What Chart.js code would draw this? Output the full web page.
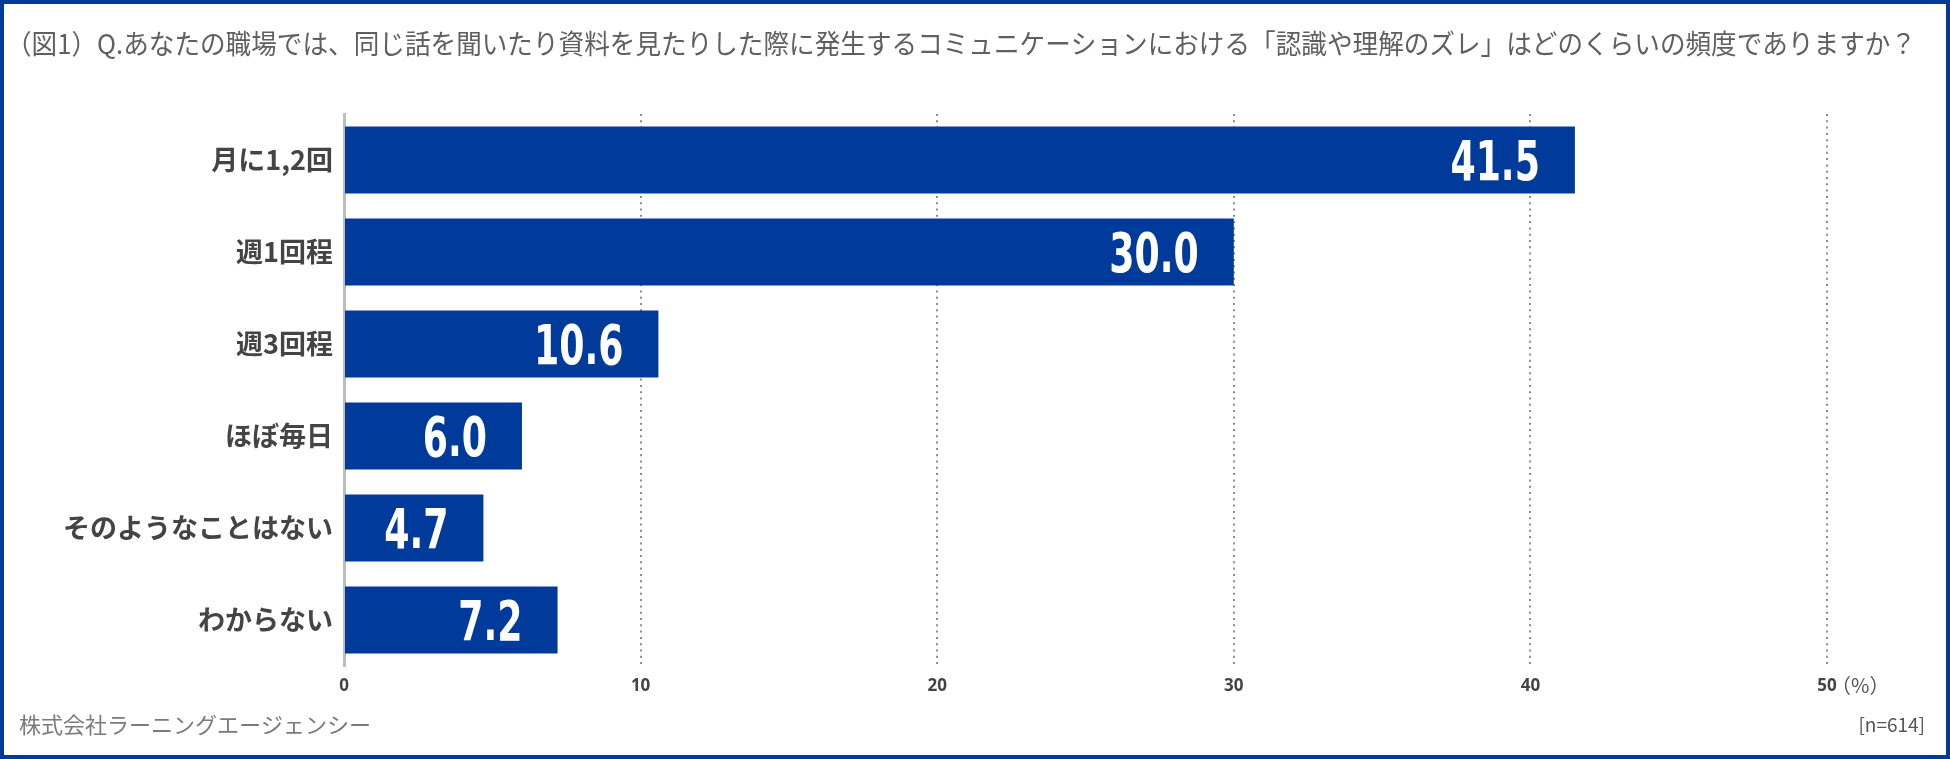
<!DOCTYPE html>
<html lang="ja">
<head>
<meta charset="utf-8">
<script src="https://cdn.jsdelivr.net/npm/chart.js@4.4.1/dist/chart.umd.min.js"></script>
<style>
  html, body { margin: 0; padding: 0; background: #fff; }
  #wrap {
    position: relative;
    width: 1950px;
    height: 759px;
    box-sizing: border-box;
    border: 4px solid #003a9a;
    background: #fff;
  }
  #chart { display: block; }
</style>
</head>
<body>
<div id="wrap"><canvas id="chart" width="1942" height="751"></canvas></div>
<script>
const categories = ["月に1,2回", "週1回程", "週3回程", "ほぼ毎日", "そのようなことはない", "わからない"];
const values = [41.5, 30.0, 10.6, 6.0, 4.7, 7.2];
const xTicks = [0, 10, 20, 30, 40, 50];

const titleText = "（図1）Q.あなたの職場では、同じ話を聞いたり資料を見たりした際に発生するコミュニケーションにおける「認識や理解のズレ」はどのくらいの頻度でありますか？";
const sourceText = "株式会社ラーニングエージェンシー";
const sampleText = "[n=614]";
const unitText = "（%）";

const barColor = "#003a9a";
const jpFont = "'Noto Sans CJK JP', 'Noto Sans', sans-serif";
const numFont = "'Liberation Sans Narrow', 'DejaVu Sans Condensed', sans-serif";

// value labels inside the bar end, squeezed to look like a condensed face
const barLabels = {
  id: "barLabels",
  afterDatasetsDraw(chart) {
    const ctx = chart.ctx;
    const meta = chart.getDatasetMeta(0);
    meta.data.forEach((bar, i) => {
      ctx.save();
      ctx.fillStyle = "#ffffff";
      ctx.font = "bold 56px " + numFont;
      ctx.textAlign = "right";
      ctx.textBaseline = "alphabetic";
      ctx.translate(bar.x - 35, bar.y + 20);
      ctx.scale(0.72, 1);
      ctx.fillText(values[i].toFixed(1), 0, 0);
      ctx.restore();
    });
  }
};

// title, footer and unit text
const frameText = {
  id: "frameText",
  afterDraw(chart) {
    const ctx = chart.ctx;
    const area = chart.chartArea;
    ctx.save();
    ctx.textBaseline = "middle";

    ctx.fillStyle = "#5f5f5f";
    ctx.font = "27px " + jpFont;
    ctx.textAlign = "left";
    const w = ctx.measureText(titleText).width;
    ctx.save();
    ctx.translate(2, 40);
    ctx.scale(1910 / w, 1);
    ctx.fillText(titleText, 0, 0);
    ctx.restore();

    ctx.fillStyle = "#7a7a7a";
    ctx.font = "22px " + jpFont;
    ctx.fillText(sourceText, 15, 721);

    ctx.fillStyle = "#555";
    ctx.font = "19px " + jpFont;
    ctx.textAlign = "right";
    ctx.fillText(sampleText, 1921, 721);

    ctx.fillStyle = "#555";
    ctx.font = "20px " + jpFont;
    ctx.textAlign = "left";
    ctx.fillText(unitText, area.right + 4, 681);
    ctx.restore();
  }
};

new Chart(document.getElementById("chart"), {
  type: "bar",
  data: {
    labels: categories,
    datasets: [{
      data: values,
      backgroundColor: barColor,
      borderWidth: 0,
      barPercentage: 0.73,
      categoryPercentage: 1.0
    }]
  },
  plugins: [barLabels, frameText],
  options: {
    indexAxis: "y",
    responsive: false,
    animation: false,
    layout: {
      padding: { top: 110, right: 119, bottom: 0, left: 0 }
    },
    plugins: {
      legend: { display: false },
      title: { display: false },
      tooltip: { enabled: false }
    },
    scales: {
      x: {
        min: 0,
        max: 50,
        afterBuildTicks: scale => {
          scale.ticks = xTicks.map(v => ({ value: v }));
        },
        afterFit: scale => { scale.height = 89; },
        grid: {
          drawTicks: false,
          lineWidth: 2,
          color: c => (c.tick && c.tick.value === 0 ? "rgba(0,0,0,0)" : "#8c8c8c")
        },
        border: { display: false, dash: [2, 4.3] },
        ticks: {
          padding: 10,
          color: "#444",
          font: { family: "'Noto Sans', sans-serif", size: 17, weight: "bold" }
        }
      },
      y: {
        afterFit: scale => { scale.width = 340; },
        grid: { display: false, drawTicks: false },
        border: { display: true, color: "#bdbdbd", width: 3 },
        ticks: {
          padding: 11,
          color: "#444",
          font: { family: jpFont, size: 27, weight: "bold" }
        }
      }
    }
  }
});
</script>
</body>
</html>
